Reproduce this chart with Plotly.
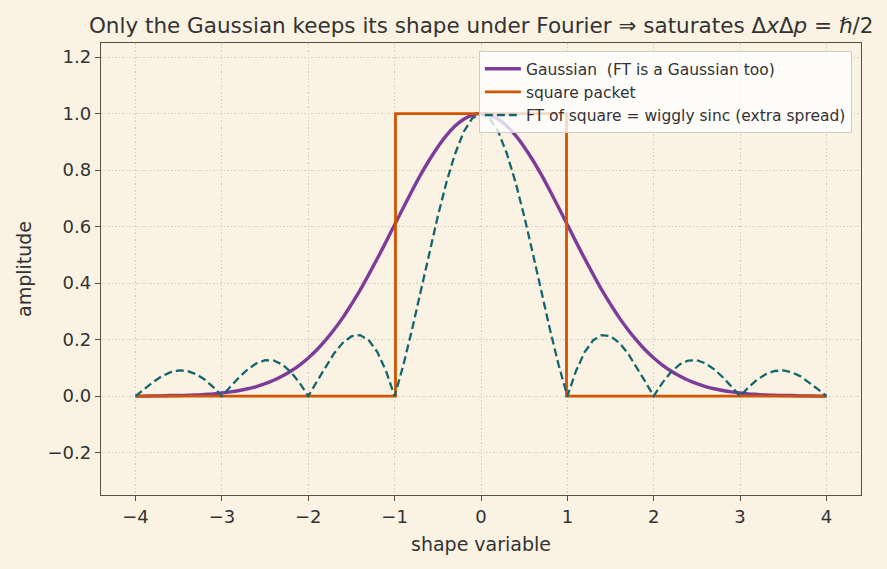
import plotly.graph_objects as go

# ---- data ----
x_vals = [round(-4 + 0.1 * i, 1) for i in range(81)]

gaussian = [0.000, 0.000, 0.001, 0.001, 0.002, 0.002, 0.003, 0.004, 0.006, 0.008,
            0.011, 0.015, 0.020, 0.026, 0.034, 0.044, 0.056, 0.071, 0.089, 0.110,
            0.135, 0.164, 0.198, 0.236, 0.278, 0.325, 0.375, 0.430, 0.487, 0.546,
            0.607, 0.667, 0.726, 0.783, 0.835, 0.882, 0.923, 0.956, 0.980, 0.995,
            1.000,
            0.995, 0.980, 0.956, 0.923, 0.882, 0.835, 0.783, 0.726, 0.667, 0.607,
            0.546, 0.487, 0.430, 0.375, 0.325, 0.278, 0.236, 0.198, 0.164, 0.135,
            0.110, 0.089, 0.071, 0.056, 0.044, 0.034, 0.026, 0.020, 0.015, 0.011,
            0.008, 0.006, 0.004, 0.003, 0.002, 0.002, 0.001, 0.001, 0.000, 0.000]

sinc_abs = [0.000, 0.025, 0.049, 0.070, 0.084, 0.091, 0.089, 0.078, 0.059, 0.032,
            0.000, 0.034, 0.067, 0.095, 0.116, 0.127, 0.126, 0.112, 0.085, 0.047,
            0.000, 0.052, 0.104, 0.152, 0.189, 0.212, 0.216, 0.198, 0.156, 0.089,
            0.000, 0.109, 0.234, 0.368, 0.505, 0.637, 0.757, 0.858, 0.936, 0.984,
            1.000,
            0.984, 0.936, 0.858, 0.757, 0.637, 0.505, 0.368, 0.234, 0.109, 0.000,
            0.089, 0.156, 0.198, 0.216, 0.212, 0.189, 0.152, 0.104, 0.052, 0.000,
            0.047, 0.085, 0.112, 0.126, 0.127, 0.116, 0.095, 0.067, 0.034, 0.000,
            0.032, 0.059, 0.078, 0.089, 0.091, 0.084, 0.070, 0.049, 0.025, 0.000]

square_x = [-4, -0.99, -0.99, 0.99, 0.99, 4]
square_y = [0, 0, 1, 1, 0, 0]

x_ticks = [-4, -3, -2, -1, 0, 1, 2, 3, 4]
y_ticks = [-0.2, 0.0, 0.2, 0.4, 0.6, 0.8, 1.0, 1.2]

BG = "#faf2e3"
AX = "#5b4f43"
TXT = "#333333"
GRID = "#d6ccba"

fig = go.Figure()
fig.add_trace(go.Scatter(x=x_vals, y=gaussian, mode="lines",
                         name="Gaussian  (FT is a Gaussian too)",
                         line=dict(color="#7d3c98", width=3.4, shape="spline")))
fig.add_trace(go.Scatter(x=square_x, y=square_y, mode="lines",
                         name="square packet",
                         line=dict(color="#d35400", width=2.8)))
fig.add_trace(go.Scatter(x=x_vals, y=sinc_abs, mode="lines",
                         name="FT of square = wiggly sinc (extra spread)",
                         line=dict(color="#13666e", width=2.3, dash="8px,4px")))

axis_common = dict(
    showline=True, linecolor=AX, linewidth=1.4, mirror=True,
    ticks="outside", ticklen=5, tickwidth=1.3, tickcolor=AX,
    showgrid=True, gridcolor=GRID, griddash="1.5px,2px", gridwidth=1.2,
    zeroline=False,
    tickfont=dict(family="DejaVu Sans", size=18, color=TXT),
)

fig.update_xaxes(range=[-4.4, 4.4], tickvals=x_ticks,
                 ticktext=[("\u2212" + str(-v)) if v < 0 else str(v) for v in x_ticks],
                 title=dict(text="shape variable", standoff=11,
                            font=dict(family="DejaVu Sans", size=19, color=TXT)),
                 **axis_common)
fig.update_yaxes(range=[-0.35, 1.25], tickvals=y_ticks,
                 ticktext=[("\u2212" + f"{-v:.1f}") if v < 0 else f"{v:.1f}" for v in y_ticks],
                 title=dict(text="amplitude", standoff=10,
                            font=dict(family="DejaVu Sans", size=19, color=TXT)),
                 **axis_common)

fig.update_layout(
    width=887, height=569,
    paper_bgcolor=BG, plot_bgcolor=BG,
    margin=dict(l=101, r=26, t=43, b=74),
    title=dict(text="Only the Gaussian keeps its shape under Fourier \u21d2 saturates \u0394<i>x</i>\u0394<i>p</i> = \u210f/2",
               x=0.5425, xanchor="center", y=0.956, yanchor="middle",
               font=dict(family="DejaVu Sans", size=21.5, color=TXT)),
    showlegend=True,
    legend=dict(x=0.988, y=0.982, xanchor="right", yanchor="top",
                bgcolor="rgba(255,255,255,0.78)", bordercolor="#cccccc", borderwidth=1,
                font=dict(family="DejaVu Sans", size=15.5, color=TXT),
                tracegroupgap=0, itemwidth=36),
    font=dict(family="DejaVu Sans", color=TXT),
)

fig.write_html("out.html")
